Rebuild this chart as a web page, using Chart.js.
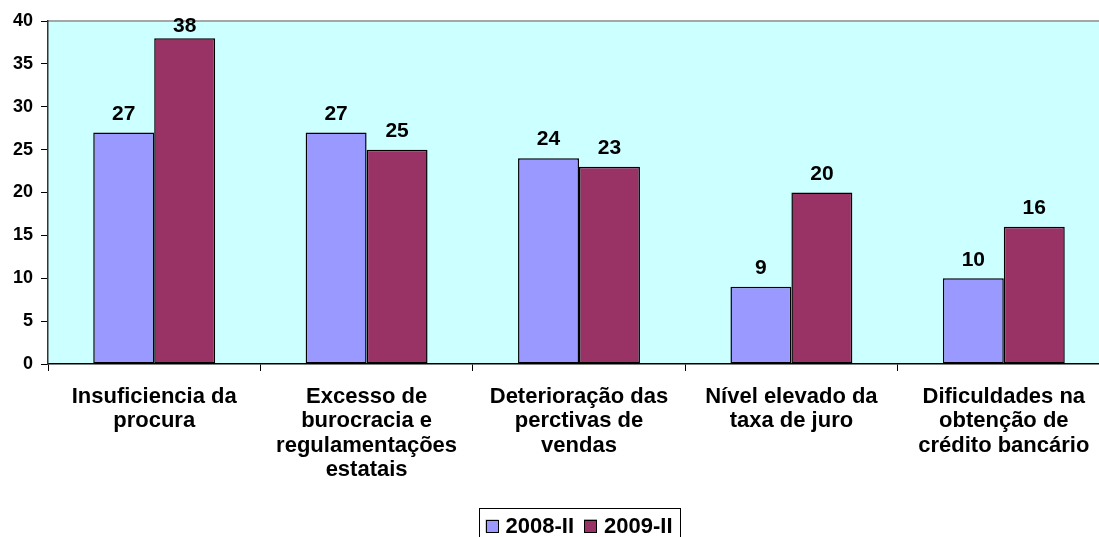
<!DOCTYPE html>
<html>
<head>
<meta charset="utf-8">
<script src="https://cdn.jsdelivr.net/npm/chart.js@4"></script>
<style>
  html, body { margin: 0; padding: 0; background: #fff; overflow: hidden; }
  #wrap { width: 1099px; height: 537px; overflow: hidden; }
</style>
</head>
<body>
<div id="wrap"><canvas id="myChart" width="1111" height="537"></canvas></div>
<script>
  const categories = [
    ["Insuficiencia da", "procura"],
    ["Excesso de", "burocracia e", "regulamentações", "estatais"],
    ["Deterioração das", "perctivas de", "vendas"],
    ["Nível elevado da", "taxa de juro"],
    ["Dificuldades na", "obtenção de", "crédito bancário"]
  ];
  const seriesNames = ["2008-II", "2009-II"];
  const values2008 = [27, 27, 24, 9, 10];
  const values2009 = [38, 25, 23, 20, 16];
  const yTicks = [0, 5, 10, 15, 20, 25, 30, 35, 40];

  const FONT = "'Liberation Sans', Arial, sans-serif";
  const colors = ['#9999FF', '#993366'];

  // light cyan plot background with grey frame on top/right
  const plotBg = {
    id: 'plotBg',
    beforeDraw(chart) {
      const { ctx, chartArea: a } = chart;
      ctx.save();
      ctx.fillStyle = '#CCFFFF';
      ctx.fillRect(a.left, a.top, a.right - a.left, a.bottom - a.top);
      ctx.strokeStyle = '#A6A6A6';
      ctx.lineWidth = 2;
      ctx.beginPath();
      ctx.moveTo(a.left, a.top);
      ctx.lineTo(a.right, a.top);
      ctx.lineTo(a.right, a.bottom);
      ctx.stroke();
      ctx.restore();
    }
  };

  // value labels above each bar, kept inside the plot area
  const valueLabels = {
    id: 'valueLabels',
    afterDatasetsDraw(chart) {
      const { ctx, chartArea: a } = chart;
      ctx.save();
      ctx.font = 'bold 21px ' + FONT;
      ctx.fillStyle = '#000';
      ctx.textAlign = 'center';
      ctx.textBaseline = 'middle';
      chart.data.datasets.forEach((ds, i) => {
        chart.getDatasetMeta(i).data.forEach((bar, j) => {
          const y = Math.max(bar.y - 18.5, a.top + 5);
          ctx.fillText(String(ds.data[j]), bar.x, y);
        });
      });
      ctx.restore();
    }
  };

  // boxed legend under the category labels
  const boxLegend = {
    id: 'boxLegend',
    afterDraw(chart) {
      const { ctx, chartArea: a } = chart;
      const sq = 13, gapSq = 7, gapItem = 10, pad = 7;
      ctx.save();
      ctx.font = 'bold 22px ' + FONT;
      const items = chart.data.datasets.map(ds => ({
        label: ds.label, color: ds.backgroundColor, w: ctx.measureText(ds.label).width
      }));
      let total = 0;
      items.forEach((it, i) => { total += sq + gapSq + it.w + (i ? gapItem : 0); });
      const cx = (a.left + a.right) / 2;
      const boxW = total + pad * 2;
      const left = cx - boxW / 2;
      const top = 508, cy = 526;
      ctx.strokeStyle = '#000';
      ctx.lineWidth = 1;
      ctx.strokeRect(Math.round(left) + 0.5, top + 0.5, Math.round(boxW), 50);
      let x = left + pad;
      ctx.textBaseline = 'middle';
      ctx.textAlign = 'left';
      items.forEach((it, i) => {
        if (i) x += gapItem;
        ctx.fillStyle = it.color;
        ctx.fillRect(x, cy - sq / 2, sq, sq);
        ctx.strokeStyle = '#000';
        ctx.strokeRect(Math.round(x) + 0.5, Math.round(cy - sq / 2) + 0.5, sq - 1, sq - 1);
        x += sq + gapSq;
        ctx.fillStyle = '#000';
        ctx.fillText(it.label, x, cy + 1);
        x += it.w;
      });
      ctx.restore();
    }
  };

  const data = {
    labels: categories,
    datasets: [
      {
        label: seriesNames[0],
        data: values2008,
        backgroundColor: colors[0],
        borderColor: '#000',
        borderWidth: 1.5,
        borderSkipped: false
      },
      {
        label: seriesNames[1],
        data: values2009,
        backgroundColor: colors[1],
        borderColor: '#000',
        borderWidth: 1.5,
        borderSkipped: false
      }
    ]
  };

  const config = {
    type: 'bar',
    data: data,
    options: {
      responsive: false,
      animation: false,
      categoryPercentage: 0.574,
      barPercentage: 1,
      layout: { padding: { top: 21, right: 1, left: 0, bottom: 0 } },
      plugins: {
        legend: { display: false },
        tooltip: { enabled: false }
      },
      scales: {
        x: {
          grid: {
            offset: true,
            drawOnChartArea: false,
            drawTicks: true,
            tickLength: 7,
            color: '#000'
          },
          border: { color: '#000', width: 1.5 },
          ticks: {
            color: '#000',
            font: { family: FONT, size: 22, weight: 'bold', lineHeight: 1.1 },
            padding: 14,
            maxRotation: 0,
            autoSkip: false
          },
          afterFit(s) { s.height = 537 - 364; }
        },
        y: {
          min: 0,
          max: 40,
          afterBuildTicks(s) { s.ticks = yTicks.map(v => ({ value: v })); },
          grid: {
            drawOnChartArea: false,
            drawTicks: true,
            tickLength: 7,
            color: '#000'
          },
          border: { color: '#333', width: 1.5 },
          ticks: {
            color: '#000',
            font: { family: FONT, size: 18, weight: 'bold' },
            padding: 8
          },
          afterFit(s) { s.width = 48; }
        }
      }
    },
    plugins: [plotBg, valueLabels, boxLegend]
  };

  const myChart = new Chart(document.getElementById('myChart'), config);
</script>
</body>
</html>
